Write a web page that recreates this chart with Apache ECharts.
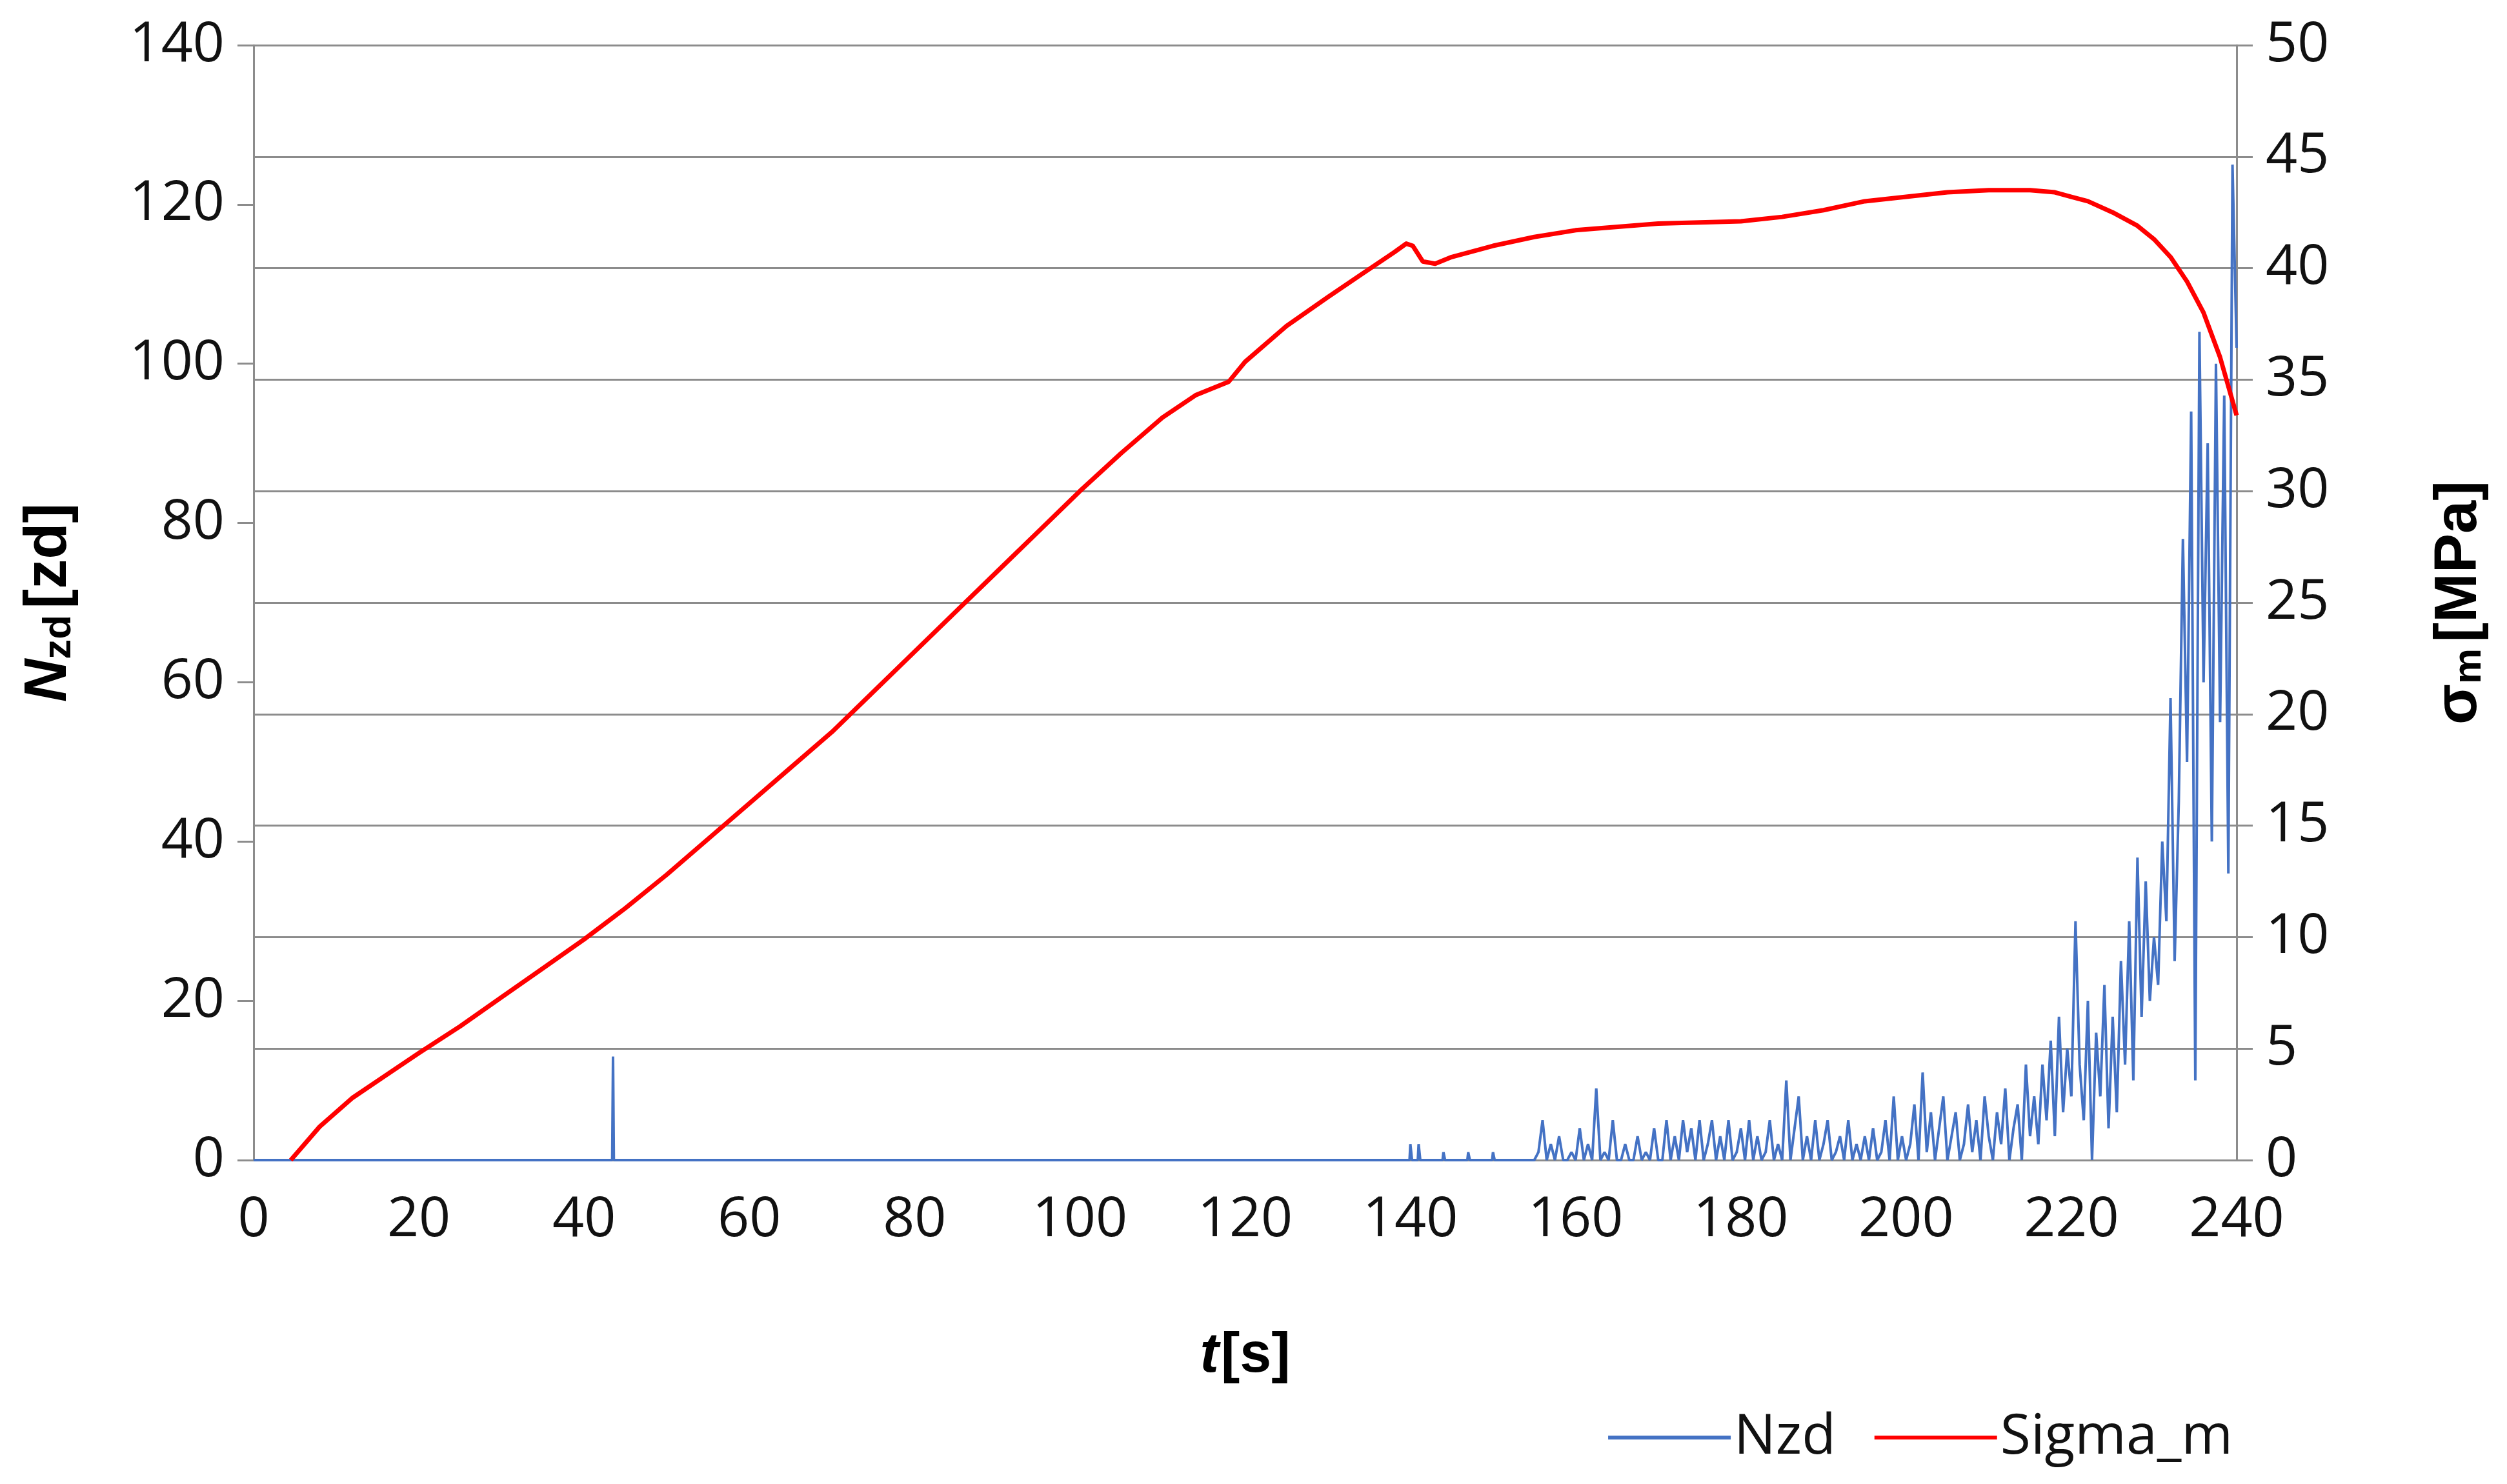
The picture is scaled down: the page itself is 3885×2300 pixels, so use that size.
<!DOCTYPE html>
<html><head><meta charset="utf-8">
<script src="https://cdn.jsdelivr.net/npm/echarts@6/dist/echarts.min.js"></script>
<style>html,body{margin:0;padding:0;background:#fff}#c{width:3885px;height:2300px}</style>
</head><body><div id="c"></div>
<script>
const xTicks = [0,20,40,60,80,100,120,140,160,180,200,220,240];
const sigmaT = [4.5,8,12,16,20,25,30,35,40,45,50,55,60,65,70,75,80,85,90,95,100,105,110,114,118,120,125,130,134,138,139.5,140.3,141.5,143,145,150,155,160,170,180,185,190,195,200,205,210,215,218,220,222,225,228,230,232,234,236,238,240];
const sigmaV = [0,1.5,2.8,3.8,4.8,6,7.3,8.6,9.9,11.3,12.8,14.4,16,17.6,19.2,21,22.8,24.6,26.4,28.2,30,31.7,33.3,34.3,34.9,35.8,37.4,38.7,39.7,40.7,41.1,41.0,40.3,40.2,40.5,41,41.4,41.7,42,42.1,42.3,42.6,43,43.2,43.4,43.5,43.5,43.4,43.2,43,42.5,41.9,41.3,40.5,39.4,38,36,33.4];
// isolated early events [t, value]
const nzdEarly = [[0,0],[43.4,0],[43.5,13],[43.6,0],[139.9,0],[140,2],[140.2,0],[140.9,0],[141,2],[141.2,0],[143.9,0],[144,1],[144.2,0],[146.9,0],[147,1],[147.2,0],[149.9,0],[150,1],[150.2,0],[154.5,0]];
// dense region, one value every 0.5 s starting at segStart
const segStart = 155;
const nzdDense = [0,1,5,0,2,0,3,0,0,1,0,4,0,2,0,9,0,1,0,5,0,0,2,0,0,3,0,1,0,4,0,
 0,5,0,3,0,5,1,4,0,5,0,2,5,0,3,0,5,0,1,4,0,5,0,3,0,1,5,0,2,0,10,0,4,8,0,3,0,5,0,2,5,0,1,3,0,5,0,2,0,3,0,4,0,1,5,0,8,0,3,0,
 2,7,0,11,1,6,0,4,8,0,3,6,0,2,7,1,5,0,8,3,0,6,2,9,0,4,7,0,12,3,
 8,2,12,5,15,3,18,6,14,8,
 30,12,5,20,0,16,8,22,4,18,
 6,25,12,30,10,38,18,35,20,28,
 22,40,30,58,25,45,78,50,94,10,
 104,60,90,40,100,55,96,36,125,102];
const nzdData = nzdEarly.concat(nzdDense.map((v,i)=>[segStart+i*0.5, v]));
const sigmaData = sigmaT.map((t,i)=>[t, sigmaV[i]]);

const chart = echarts.init(document.getElementById('c'));
const F = "'Open Sans','Liberation Sans',sans-serif";
const gridC = '#8c8c8c';
const B = {fontWeight:'bold',fontFamily:'Liberation Sans',color:'#000'};
chart.setOption({
  backgroundColor:'#fff',
  animation:false,
  textStyle:{fontFamily:F},
  grid:{left:393,right:419,top:70,bottom:502},
  legend:{right:420,top:2180,itemWidth:190,itemHeight:6,itemGap:60,
    textStyle:{fontSize:86,color:'#111',fontFamily:F},
    data:[{name:'Nzd',icon:'rect'},{name:'Sigma_m',icon:'rect'}]},
  xAxis:{type:'value',min:0,max:240,interval:20,
    axisLine:{lineStyle:{color:gridC,width:3}},axisTick:{show:false},splitLine:{show:false},
    axisLabel:{fontSize:86,color:'#111',margin:50,fontFamily:F},
    name:'{i|t} {n|[s]}',nameLocation:'middle',nameGap:260,
    nameTextStyle:{rich:{i:Object.assign({fontSize:88,fontStyle:'italic'},B),n:Object.assign({fontSize:88},B)}}},
  yAxis:[
    {type:'value',min:0,max:140,interval:20,position:'left',
     axisLine:{show:true,lineStyle:{color:gridC,width:3}},axisTick:{show:true,length:25,lineStyle:{color:gridC,width:3}},
     splitLine:{show:false},
     axisLabel:{fontSize:86,color:'#111',margin:45,fontFamily:F},
     name:'{a|N}{s|zd}   {b|[zd]}',nameLocation:'middle',nameGap:270,nameRotate:90,
     nameTextStyle:{rich:{a:Object.assign({fontSize:92,fontStyle:'italic'},B),s:Object.assign({fontSize:62,padding:[30,0,0,0]},B),b:Object.assign({fontSize:92},B)}}},
    {type:'value',min:0,max:50,interval:5,position:'right',
     axisLine:{show:true,lineStyle:{color:gridC,width:3}},axisTick:{show:true,length:25,lineStyle:{color:gridC,width:3}},
     splitLine:{lineStyle:{color:gridC,width:3}},
     axisLabel:{fontSize:86,color:'#111',margin:45,fontFamily:F},
     name:'{a|σ}{s|m}   {b|[MPa]}',nameLocation:'middle',nameGap:300,nameRotate:90,
     nameTextStyle:{rich:{a:Object.assign({fontSize:92},B),s:Object.assign({fontSize:62,padding:[30,0,0,0]},B),b:Object.assign({fontSize:92},B)}}}
  ],
  series:[
    {name:'Nzd',type:'line',yAxisIndex:0,data:nzdData,showSymbol:false,symbol:'none',
     lineStyle:{color:'#4472c4',width:4},itemStyle:{color:'#4472c4'},z:2},
    {name:'Sigma_m',type:'line',yAxisIndex:1,data:sigmaData,showSymbol:false,symbol:'none',
     lineStyle:{color:'#ff0000',width:7,join:'round'},itemStyle:{color:'#ff0000'},z:3}
  ]
});
</script></body></html>
